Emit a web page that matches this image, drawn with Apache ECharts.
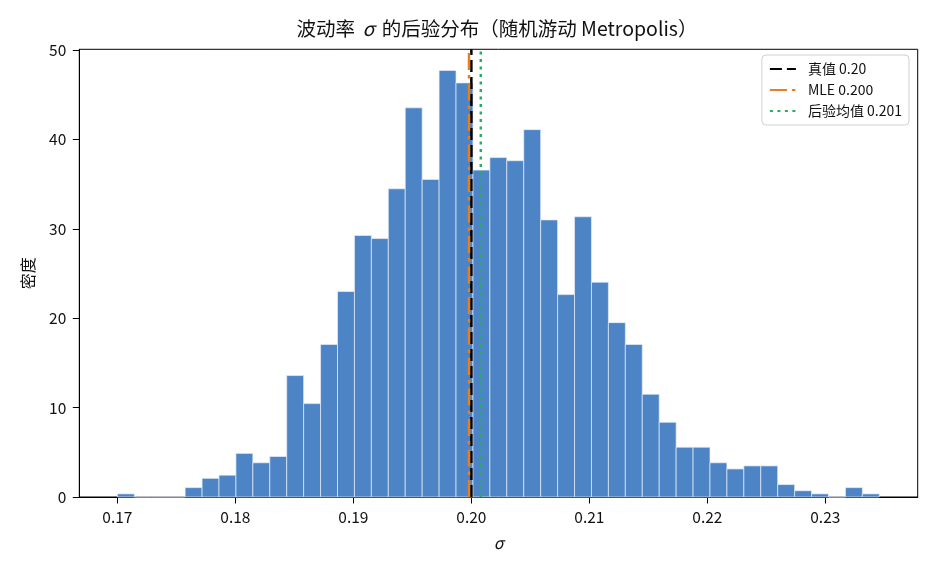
<!DOCTYPE html>
<html>
<head>
<meta charset="utf-8">
<script src="https://cdn.jsdelivr.net/npm/echarts@6/dist/echarts.min.js"></script>
<style>
html, body { margin: 0; padding: 0; background: #fff; }
#chart { width: 936px; height: 572px; }
</style>
</head>
<body>
<div id="chart"></div>
<script>
// 直方图分箱：左端点 + 宽度
var binStart = 0.1700;
var binWidth = 0.001435;
// 每个箱的密度
var density = [
    0.35, 0, 0, 0, 1.05, 2.09, 2.44, 4.88, 3.83, 4.53,
    13.59, 10.45, 17.07, 22.99, 29.27, 28.92, 34.49, 43.55, 35.54, 47.73,
    46.34, 36.58, 37.98, 37.63, 41.11, 31.01, 22.65, 31.36, 24.04, 19.51,
    17.07, 11.50, 8.36, 5.57, 5.57, 3.83, 3.14, 3.48, 3.48, 1.39,
    0.70, 0.35, 0, 1.05, 0.35
];
var xTicks = [0.17, 0.18, 0.19, 0.20, 0.21, 0.22, 0.23];
var yTicks = [0, 10, 20, 30, 40, 50];
var xMin = 0.16677, xMax = 0.23783;
var yMax = 50.1;

var trueVal = 0.2000;
var mleVal = 0.1998;
var postMean = 0.2008;
var lineNames = ['真值 0.20', 'MLE 0.200', '后验均值 0.201'];

var FONT = '"Noto Sans CJK SC", "Noto Sans", sans-serif';

var bars = [];
for (var i = 0; i < density.length; i++) {
    bars.push([binStart + i * binWidth, binStart + (i + 1) * binWidth, density[i]]);
}

function vline(name, x, color, type, width) {
    return {
        name: name,
        type: 'line',
        data: [[x, 0], [x, yMax]],
        symbol: 'none',
        silent: true,
        z: 5,
        lineStyle: { color: color, type: type, width: width },
        itemStyle: { color: color }
    };
}

var chart = echarts.init(document.getElementById('chart'), null, { renderer: 'canvas' });
var option = {
    animation: false,
    backgroundColor: '#fff',
    title: {
        text: '波动率\u00a0{i|σ}\u00a0的后验分布（随机游动\u00a0Metropolis）',
        left: 492,
        textAlign: 'center',
        top: 14,
        textStyle: {
            fontFamily: FONT, fontSize: 19.5, fontWeight: 'normal', color: '#111',
            rich: { i: { fontFamily: FONT, fontSize: 19.5, fontStyle: 'italic', color: '#111', padding: [0, 3, 0, 3] } }
        }
    },
    legend: {
        data: lineNames,
        orient: 'vertical',
        right: 27,
        top: 55,
        itemWidth: 26,
        itemHeight: 14,
        itemGap: 7,
        padding: [7, 7, 7, 7],
        borderColor: '#d0d0d0',
        borderWidth: 1,
        borderRadius: 4,
        backgroundColor: 'rgba(255,255,255,0.85)',
        itemStyle: { opacity: 0 },
        textStyle: { fontFamily: FONT, fontSize: 14, color: '#111', padding: [0, 0, 0, 7] }
    },
    grid: {
        left: 79.3,
        right: 18.3,
        top: 49.3,
        bottom: 75,
        show: true,
        borderColor: '#000',
        borderWidth: 1,
        backgroundColor: 'transparent'
    },
    xAxis: {
        type: 'value',
        min: xMin,
        max: xMax,
        name: 'σ',
        nameLocation: 'middle',
        nameGap: 38,
        nameTextStyle: { fontFamily: FONT, fontSize: 16, fontStyle: 'italic', color: '#111' },
        splitLine: { show: false },
        axisLine: { show: true, onZero: false, lineStyle: { color: '#000', width: 1 } },
        axisTick: { show: true, length: 6.5, lineStyle: { color: '#000' }, customValues: xTicks },
        axisLabel: {
            customValues: xTicks,
            margin: 12,
            fontFamily: FONT,
            fontSize: 15.5,
            color: '#111',
            formatter: function (v) { return v.toFixed(2); }
        }
    },
    yAxis: {
        type: 'value',
        min: 0,
        max: yMax,
        name: '密度',
        nameLocation: 'middle',
        nameGap: 43,
        nameTextStyle: { fontFamily: FONT, fontSize: 16, color: '#111' },
        splitLine: { show: false },
        axisLine: { show: true, lineStyle: { color: '#000', width: 1 } },
        axisTick: { show: true, length: 6.5, lineStyle: { color: '#000' }, customValues: yTicks },
        axisLabel: {
            customValues: yTicks,
            margin: 13,
            fontFamily: FONT,
            fontSize: 15.5,
            color: '#111'
        }
    },
    series: [
        {
            name: 'hist',
            type: 'custom',
            silent: true,
            z: 2,
            data: bars,
            encode: { x: [0, 1], y: 2 },
            renderItem: function (params, api) {
                var p0 = api.coord([api.value(0), api.value(2)]);
                var p1 = api.coord([api.value(1), 0]);
                return {
                    type: 'rect',
                    shape: { x: p0[0], y: p0[1], width: p1[0] - p0[0], height: p1[1] - p0[1] },
                    style: { fill: '#4c84c5', stroke: '#e8eef7', lineWidth: 0.7 }
                };
            }
        },
        vline(lineNames[0], trueVal, '#000000', [12, 5], 2.5),
        vline(lineNames[1], mleVal, '#e67e22', [17, 5, 3.5, 5], 2.5),
        vline(lineNames[2], postMean, '#27ae60', [3, 4.5], 2.5)
    ]
};
chart.setOption(option);
</script>
</body>
</html>
